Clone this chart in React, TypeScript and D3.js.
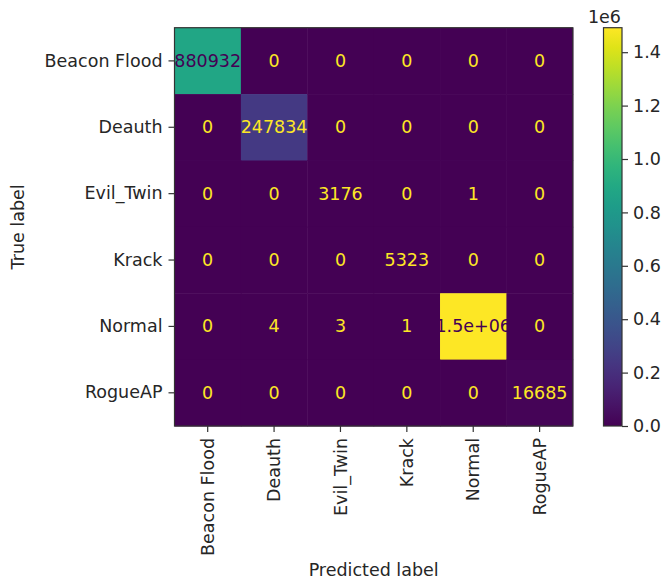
import { useEffect, useRef } from "react";
import * as d3 from "d3";

const labels = ["Beacon Flood", "Deauth", "Evil_Twin", "Krack", "Normal", "RogueAP"];

// rows = true label, columns = predicted label
const rowBeacon = [880932, 0, 0, 0, 0, 0];
const rowDeauth = [0, 247834, 0, 0, 0, 0];
const rowEvilTwin = [0, 0, 3176, 0, 1, 0];
const rowKrack = [0, 0, 0, 5323, 0, 0];
const rowNormal = [0, 4, 3, 1, 1491750, 0];
const rowRogue = [0, 0, 0, 0, 0, 16685];

const matrix = [rowBeacon, rowDeauth, rowEvilTwin, rowKrack, rowNormal, rowRogue];
const colorbarTicks = [0, 0.2e6, 0.4e6, 0.6e6, 0.8e6, 1.0e6, 1.2e6, 1.4e6];

// sklearn-style: ".2g" unless the plain integer is shorter
const fmtCell = (v: number) => {
  const d = String(v);
  const g = v >= 100 ? v.toExponential(1).replace(/e([+-])(\d)$/, "e$10$2") : d;
  return d.length < g.length ? d : g;
};

const App = () => {
  const ref = useRef<SVGSVGElement | null>(null);

  useEffect(() => {
    if (!ref.current) return;
    const svg = d3.select(ref.current);
    svg.selectAll("*").remove();

    const font = "DejaVu Sans, sans-serif";
    const fs = 17.5;
    const left = 174.5, top = 27.7, size = 398.3;
    const cbX = 603.5, cbW = 18.5;
    const tickColor = "#333";

    const vmax = d3.max(matrix.flat())!;
    const vmin = d3.min(matrix.flat())!;
    const color = (v: number) => d3.interpolateViridis((v - vmin) / (vmax - vmin));
    const thresh = (vmax + vmin) / 2;

    const x = d3.scaleBand().domain(labels).range([left, left + size]);
    const y = d3.scaleBand().domain(labels).range([top, top + size]);

    const cells = matrix.flatMap((row, i) => row.map((v, j) => ({ r: labels[i], c: labels[j], v })));

    svg.append("g")
      .selectAll("rect")
      .data(cells)
      .join("rect")
      .attr("x", d => x(d.c)!)
      .attr("y", d => y(d.r)!)
      .attr("width", x.bandwidth() + 0.5)
      .attr("height", y.bandwidth() + 0.5)
      .attr("fill", d => color(d.v));

    svg.append("g")
      .selectAll("text")
      .data(cells)
      .join("text")
      .attr("x", d => x(d.c)! + x.bandwidth() / 2)
      .attr("y", d => y(d.r)! + y.bandwidth() / 2)
      .attr("text-anchor", "middle")
      .attr("dominant-baseline", "central")
      .attr("font-family", font)
      .attr("font-size", fs)
      .attr("fill", d => (d.v < thresh ? d3.interpolateViridis(1) : d3.interpolateViridis(0)))
      .text(d => fmtCell(d.v));

    svg.append("rect")
      .attr("x", left).attr("y", top).attr("width", size).attr("height", size)
      .attr("fill", "none").attr("stroke", tickColor).attr("stroke-width", 1.2);

    // axes
    const ax = svg.append("g")
      .attr("transform", `translate(0,${top + size})`)
      .call(d3.axisBottom(x).tickSize(6).tickPadding(6));
    ax.select(".domain").remove();
    ax.selectAll("line").attr("stroke", tickColor).attr("stroke-width", 1.2);
    ax.selectAll("text")
      .attr("font-family", font).attr("font-size", fs).attr("fill", "#262626")
      .attr("transform", "rotate(-90)")
      .attr("x", -12).attr("y", 0).attr("dy", "0.35em")
      .style("text-anchor", "end");

    const ay = svg.append("g")
      .attr("transform", `translate(${left},0)`)
      .call(d3.axisLeft(y).tickSize(6).tickPadding(6));
    ay.select(".domain").remove();
    ay.selectAll("line").attr("stroke", tickColor).attr("stroke-width", 1.2);
    ay.selectAll("text").attr("font-family", font).attr("font-size", fs).attr("fill", "#262626");

    svg.append("text")
      .attr("x", left + size / 2).attr("y", 576)
      .attr("text-anchor", "middle")
      .attr("font-family", font).attr("font-size", fs).attr("fill", "#262626")
      .text("Predicted label");

    svg.append("text")
      .attr("transform", `translate(24,${top + size / 2}) rotate(-90)`)
      .attr("text-anchor", "middle")
      .attr("font-family", font).attr("font-size", fs).attr("fill", "#262626")
      .text("True label");

    // colorbar
    const cy = d3.scaleLinear().domain([vmin, vmax]).range([top + size, top]);
    const grad = svg.append("defs").append("linearGradient")
      .attr("id", "viridis").attr("x1", 0).attr("y1", 1).attr("x2", 0).attr("y2", 0);
    d3.range(0, 1.0001, 0.05).forEach(t => {
      grad.append("stop").attr("offset", t).attr("stop-color", d3.interpolateViridis(t));
    });
    svg.append("rect")
      .attr("x", cbX).attr("y", top).attr("width", cbW).attr("height", size)
      .attr("fill", "url(#viridis)").attr("stroke", tickColor).attr("stroke-width", 1.2);

    const ac = svg.append("g")
      .attr("transform", `translate(${cbX + cbW},0)`)
      .call(d3.axisRight(cy).tickValues(colorbarTicks).tickFormat(d => (+d / 1e6).toFixed(1)).tickSize(6).tickPadding(5));
    ac.select(".domain").remove();
    ac.selectAll("line").attr("stroke", tickColor).attr("stroke-width", 1.2);
    ac.selectAll("text").attr("font-family", font).attr("font-size", fs).attr("fill", "#262626");

    svg.append("text")
      .attr("x", 621).attr("y", 22.5)
      .attr("text-anchor", "end")
      .attr("font-family", font).attr("font-size", fs).attr("fill", "#262626")
      .text("1e6");
  }, []);

  return (
    <svg
      ref={ref}
      width={663}
      height={586}
      style={{ position: "absolute", left: 0, top: 0, background: "#fff" }}
    />
  );
};

export default App;
